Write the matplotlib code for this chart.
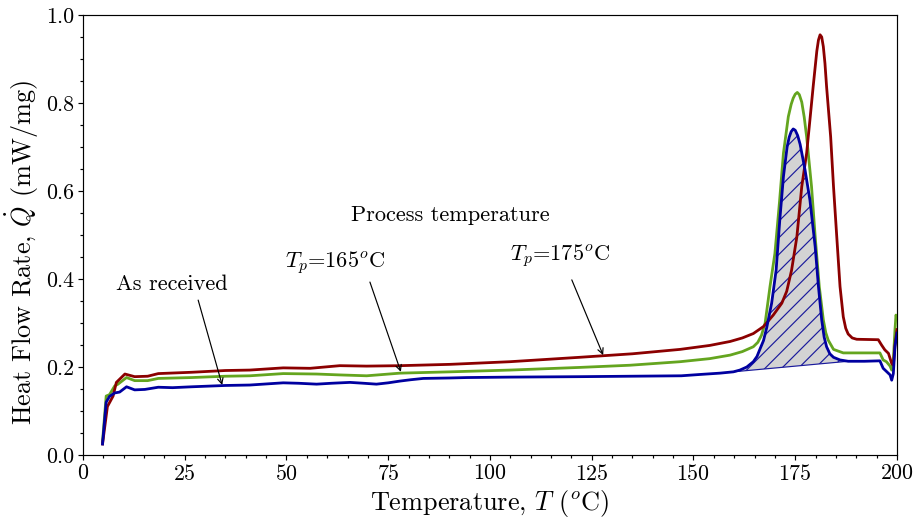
import numpy as np
import matplotlib
matplotlib.use("Agg")
import matplotlib.pyplot as plt

plt.rcParams['font.family'] = 'serif'
plt.rcParams['font.serif'] = ['cmr10']
plt.rcParams['mathtext.fontset'] = 'cm'
plt.rcParams['axes.formatter.use_mathtext'] = True
plt.rcParams['hatch.linewidth'] = 0.85

# DSC curves (temperature in C, heat flow in mW/mg)
T_received = [4.8, 5.7, 6.5, 7.8, 9.0, 10.7, 12.7, 15.2, 18.5, 22, 26.7, 35, 41, 49.2, 53, 57.4,
              61, 65.6, 69, 72.1, 75, 77.9, 80.5, 83.6, 90, 94.3, 104.9, 122, 134.4, 147,
              151.6, 156.5, 159.8, 161.4, 163.1, 164.7, 165.6, 166.3, 167.2, 168.0, 169.2,
              170.3, 171.2, 172.1, 173.0, 173.5, 174.0, 174.5, 175.0, 175.6, 176.2, 177.4,
              178.6, 179.9, 180.7, 181.5, 182.1, 182.7, 183.5, 184.4, 186.0, 188, 192, 195.8,
              196.6, 197.4, 198.3, 198.7, 199.1, 199.5, 200]
Q_received = [0.025, 0.12, 0.133, 0.141, 0.143, 0.155, 0.148, 0.149, 0.154, 0.153, 0.155, 0.158,
              0.159, 0.164, 0.163, 0.161, 0.163, 0.165, 0.163, 0.161, 0.164, 0.168, 0.171,
              0.174, 0.175, 0.176, 0.177, 0.178, 0.179, 0.180, 0.183, 0.186, 0.189, 0.193,
              0.200, 0.212, 0.224, 0.240, 0.26, 0.29, 0.345, 0.42, 0.534, 0.633, 0.70, 0.722,
              0.735, 0.741, 0.738, 0.726, 0.706, 0.648, 0.58, 0.473, 0.383, 0.307, 0.268,
              0.246, 0.230, 0.222, 0.216, 0.213, 0.213, 0.214, 0.197, 0.19, 0.182, 0.17,
              0.185, 0.246, 0.277]

T_165 = [4.8, 5.7, 6.5, 7.8, 8.6, 10.7, 12.7, 15.9, 18.5, 26.7, 35, 41, 49.2, 57.4, 63, 69.7,
         77.9, 90.2, 104.9, 122, 134.4, 146.7, 154, 159, 162, 164.7, 165.8, 166.7, 167.6,
         168.8, 170.0, 171.1, 172.1, 173.3, 174.0, 174.5, 175.0, 175.5, 176.0, 176.6, 177.2,
         177.8, 179.0, 179.9, 180.9, 181.9, 182.5, 183.1, 184.4, 186.8, 190, 195.8, 196.6,
         197.4, 198.3, 198.7, 199.1, 199.5, 199.75, 200]
Q_165 = [0.03, 0.134, 0.137, 0.157, 0.161, 0.176, 0.169, 0.169, 0.174, 0.176, 0.179, 0.18,
         0.185, 0.184, 0.182, 0.18, 0.186, 0.189, 0.193, 0.199, 0.204, 0.212, 0.219, 0.227,
         0.235, 0.246, 0.256, 0.272, 0.300, 0.383, 0.458, 0.572, 0.686, 0.769, 0.797, 0.811,
         0.820, 0.824, 0.819, 0.802, 0.768, 0.723, 0.61, 0.496, 0.383, 0.307, 0.278, 0.261,
         0.240, 0.232, 0.232, 0.232, 0.216, 0.212, 0.202, 0.193, 0.216, 0.284, 0.318, 0.31]

T_175 = [4.8, 6.0, 7.4, 8.2, 10.3, 12.7, 15.9, 18.5, 26.7, 35, 41, 49.2, 55.8, 63.1, 69.7,
         77.9, 90.2, 104.9, 122, 135, 146.7, 154, 159, 162, 164.7, 167.2, 169.6, 171.7,
         172.9, 174.1, 175.4, 176.6, 177.8, 178.6, 179.4, 179.9, 180.3, 180.7, 181.1, 181.5,
         181.9, 182.3, 182.7, 183.7, 184.4, 185.2, 186.0, 186.8, 187.4, 188.0, 189.0, 190.1,
         195.4, 196.2, 197.0, 197.9, 198.7, 199.1, 199.5, 200]
Q_175 = [0.025, 0.11, 0.134, 0.165, 0.184, 0.178, 0.179, 0.185, 0.188, 0.192, 0.193, 0.198,
         0.197, 0.203, 0.202, 0.203, 0.206, 0.212, 0.222, 0.23, 0.240, 0.249, 0.258, 0.266,
         0.276, 0.292, 0.318, 0.345, 0.372, 0.42, 0.496, 0.61, 0.686, 0.761, 0.837, 0.882,
         0.918, 0.943, 0.955, 0.950, 0.928, 0.890, 0.837, 0.723, 0.61, 0.496, 0.383, 0.314,
         0.288, 0.275, 0.266, 0.263, 0.262, 0.25, 0.239, 0.231, 0.208, 0.204, 0.25, 0.285]

# melting peak integration limits for the as-received curve
peak_start, peak_end = 159.8, 188

fig = plt.figure(figsize=(9.2, 5.24), dpi=100)
ax = fig.add_axes([0.0902, 0.1317, 0.8848, 0.8397])

T_r = np.array(T_received)
Q_r = np.array(Q_received)
mask = (T_r >= peak_start) & (T_r <= peak_end)
q0 = np.interp(peak_start, T_r, Q_r)
q1 = np.interp(peak_end, T_r, Q_r)
base = q0 + (q1 - q0) * (T_r[mask] - peak_start) / (peak_end - peak_start)
ax.fill_between(T_r[mask], base, Q_r[mask], facecolor='#d3d3d3', edgecolor='#1a1a9c',
                hatch='//', linewidth=0.85, zorder=1)

ax.plot(T_165, Q_165, color='#64a51f', lw=2.0, zorder=3)
ax.plot(T_175, Q_175, color='#8b0000', lw=2.0, zorder=3)
ax.plot(T_received, Q_received, color='#0000a0', lw=2.0, zorder=4)

ax.set_xlim(0, 200)
ax.set_ylim(0, 1.0)
ax.set_xticks(np.arange(0, 201, 25))
ax.set_yticks(np.arange(0, 1.01, 0.2))
ax.set_xticks(np.arange(0, 201, 5), minor=True)
ax.set_yticks(np.arange(0, 1.01, 0.05), minor=True)
ax.yaxis.set_major_formatter(matplotlib.ticker.FormatStrFormatter('%.1f'))
ax.tick_params(which='major', direction='out', length=3.6, width=0.85, labelsize=15.8, pad=2.8)
ax.tick_params(which='minor', direction='out', length=1.9, width=0.85)
for s in ax.spines.values():
    s.set_linewidth(0.85)

ax.set_xlabel(r'Temperature, $T$ ($^o$C)', fontsize=18.9, labelpad=2.8)
ax.set_ylabel(r'Heat Flow Rate, $\dot{Q}$ (mW/mg)', fontsize=18.9, labelpad=3.6)
ax.yaxis.label.set_y(0.46)

arrow = dict(arrowstyle='->', color='black', lw=0.85, shrinkA=0, shrinkB=0)
ax.text(90.2, 0.545, 'Process temperature', fontsize=16.1, ha='center', va='center')
ax.text(21.9, 0.388, 'As received', fontsize=16.1, ha='center', va='center')
ax.annotate('', xy=(34.2, 0.159), xytext=(28.3, 0.352), arrowprops=arrow)
ax.text(61.9, 0.435, r'$T_p$=165$^o$C', fontsize=16.1, ha='center', va='center')
ax.annotate('', xy=(78.1, 0.189), xytext=(70.5, 0.393), arrowprops=arrow)
ax.text(117.2, 0.45, r'$T_p$=175$^o$C', fontsize=16.1, ha='center', va='center')
ax.annotate('', xy=(127.8, 0.227), xytext=(120.1, 0.398), arrowprops=arrow)

fig.savefig('out.png', dpi=100)
